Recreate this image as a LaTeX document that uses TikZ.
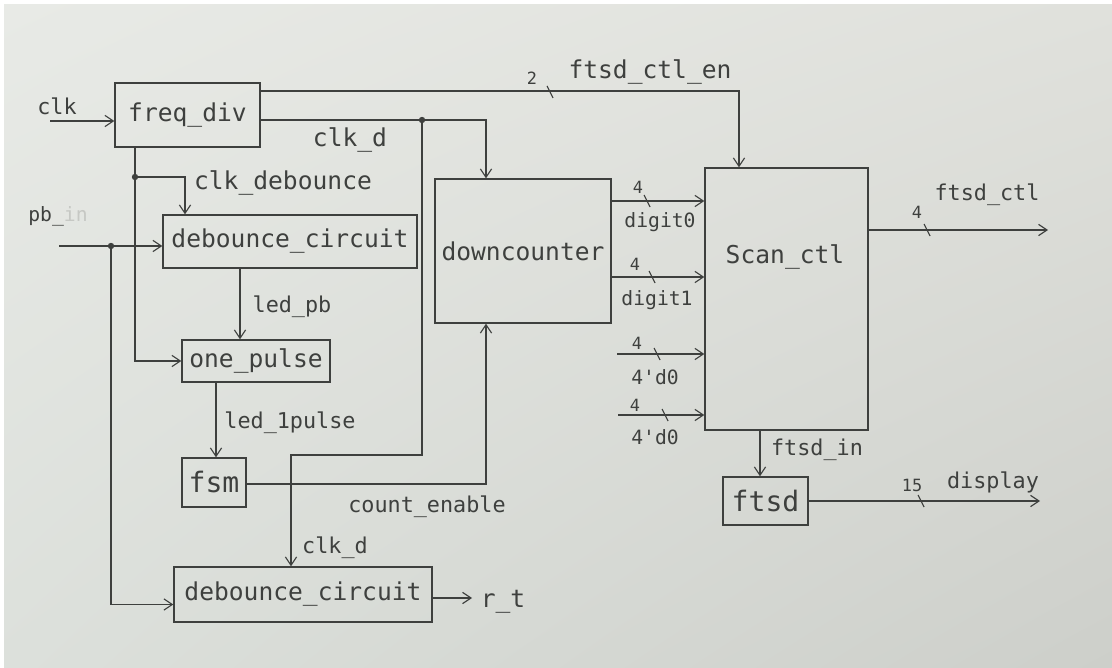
\documentclass[tikz,border=0pt]{standalone}
\usepackage{fontspec}
\newfontfamily\handfont{DejaVu Sans Mono}
\usetikzlibrary{arrows.meta, shadings}
\definecolor{pencil}{RGB}{62,64,62}
\definecolor{paperA}{RGB}{232,234,230}
\definecolor{paperB}{RGB}{224,225,220}
\definecolor{paperC}{RGB}{220,224,219}
\definecolor{paperD}{RGB}{205,207,202}
\tikzset{
    block/.style={draw=pencil, line width=0.9pt, inner sep=0pt, text=pencil,
        font=\handfont\fontsize{17.5}{20}\selectfont},
    dot/.style={circle, fill=pencil, inner sep=1.6pt, outer sep=0pt},
    wirelabel/.style={text=pencil, inner sep=1pt, font=\handfont\fontsize{15.5}{18}\selectfont},
    biglabel/.style={wirelabel, font=\handfont\fontsize{17.5}{20}\selectfont},
    smalllabel/.style={wirelabel, font=\handfont\fontsize{14}{16}\selectfont},
    buswidth/.style={text=pencil, inner sep=0pt, font=\handfont\fontsize{12}{14}\selectfont},
    wire/.style={draw=pencil, line width=0.8pt, -{Straight Barb[length=6pt, width=8pt]}},
    bus/.pic={\draw[pencil, line width=0.8pt] (-3,-6) -- (3,6);}
}

\begin{document}
\begin{tikzpicture}[x=0.025cm, y=-0.025cm]
    % ---------- paper ----------
    \useasboundingbox (0,0) rectangle (1112,668);
    \fill[white] (0,0) rectangle (1112,668);
    \shade[upper left=paperA, upper right=paperB, lower left=paperC, lower right=paperD]
        (4,5) rectangle (1112,668);

    % ---------- blocks ----------
    \node[block, minimum width=3.625cm, minimum height=1.6cm] (freqdiv) at (187.5,115) {freq\_div};
    \node[block, minimum width=6.35cm, minimum height=1.325cm] (deb1) at (290,241.5) {debounce\_circuit};
    \node[block, minimum width=3.7cm, minimum height=1.05cm] (onepulse) at (256,361) {one\_pulse};
    \node[block, minimum width=1.6cm, minimum height=1.225cm,
        font=\handfont\fontsize{20}{22}\selectfont] (fsm) at (214,482.5) {fsm};
    \node[block, minimum width=6.45cm, minimum height=1.375cm] (deb2) at (303,594.5) {debounce\_circuit};
    \node[block, minimum width=4.4cm, minimum height=3.6cm] (dc) at (523,251) {downcounter};
    \node[block, minimum width=4.075cm, minimum height=6.55cm] (scan) at (786.5,299) {};
    \node[block, draw=none] (scanlbl) at (785,257) {Scan\_ctl};
    \node[block, minimum width=2.125cm, minimum height=1.2cm,
        font=\handfont\fontsize{20}{22}\selectfont] (ftsd) at (765.5,501) {ftsd};

    % ---------- clk and freq_div outputs ----------
    \coordinate (clkin) at (50,121);
    \draw[wire] (clkin) -- (clkin -| freqdiv.west);
    \node[wirelabel] (clklbl) at (57,106) {clk};

    \coordinate (enbend) at (739,91);
    \draw[wire] (freqdiv.east |- enbend) -- (enbend) -- (enbend |- scan.north);
    \pic at (550,92) {bus};
    \node[buswidth] (enwidth) at (532,78) {2};
    \node[biglabel] (enlbl) at (650,72) {ftsd\_ctl\_en};

    \node[dot] (clkd) at (422,120) {};
    \coordinate (dcbend) at (486,120);
    \draw[wire] (freqdiv.east |- clkd) -- (dcbend) -- (dcbend |- dc.north);
    \node[biglabel] (clkdlbl) at (350,140) {clk\_d};
    \coordinate (clkdbend) at (291,455);
    \draw[wire] (clkd) |- (clkdbend) -- (clkdbend |- deb2.north);
    \node[wirelabel] (clkdlbl2) at (335,548) {clk\_d};

    \node[dot] (fdd) at (135,177) {};
    \coordinate (cdbend) at (185,177);
    \draw[pencil, line width=0.8pt] (freqdiv.south -| fdd) -- (fdd);
    \draw[wire] (fdd) |- (onepulse.west);
    \draw[wire] (fdd) -- (cdbend) -- (cdbend |- deb1.north);
    \node[biglabel] (cdlbl) at (283,183) {clk\_debounce};

    % ---------- pb_in ----------
    \coordinate (pbin) at (59,246);
    \node[dot] (pbd) at (111,246) {};
    \draw[wire] (pbin) -- (pbin -| deb1.west);
    \draw[wire] (pbd) |- ([yshift=-0.25cm]deb2.west);
    \node[smalllabel] (pblbl) at (58,216) {pb\_\textcolor{pencil!20!paperA}{in}};

    % ---------- left chain ----------
    \coordinate (ledpb) at (240,0);
    \draw[wire] (deb1.south -| ledpb) -- (onepulse.north -| ledpb);
    \node[wirelabel] (ledpblbl) at (292,307) {led\_pb};

    \coordinate (led1) at (216,0);
    \draw[wire] (onepulse.south -| led1) -- (fsm.north -| led1);
    \node[wirelabel] (led1lbl) at (290,423) {led\_1pulse};

    \coordinate (cebend) at (486,484);
    \draw[wire] (fsm.east |- cebend) -- (cebend) -- (cebend |- dc.south);
    \node[wirelabel] (celbl) at (427,507) {count\_enable};

    \coordinate (rt) at (472,598);
    \draw[wire] (deb2.east |- rt) -- (rt);
    \node[biglabel] (rtlbl) at (503,602) {r\_t};

    % ---------- downcounter to scan_ctl ----------
    \coordinate (dg0) at (611,201);
    \draw[wire] (dc.east |- dg0) -- (dg0 -| scan.west);
    \pic at (647,201) {bus};
    \node[buswidth] at (638,187) {4};
    \node[smalllabel] (dg0lbl) at (660,222) {digit0};

    \coordinate (dg1) at (611,277);
    \draw[wire] (dc.east |- dg1) -- (dg1 -| scan.west);
    \pic at (652,277) {bus};
    \node[buswidth] at (635,264) {4};
    \node[smalllabel] (dg1lbl) at (657,300) {digit1};

    \coordinate (zero0) at (617,354);
    \draw[wire] (zero0) -- (zero0 -| scan.west);
    \pic at (657,354) {bus};
    \node[buswidth] at (637,343) {4};
    \node[smalllabel] (zero0lbl) at (655,377) {4\textquotesingle d0};

    \coordinate (zero1) at (618,415);
    \draw[wire] (zero1) -- (zero1 -| scan.west);
    \pic at (665,415) {bus};
    \node[buswidth] at (635,405) {4};
    \node[smalllabel] (zero1lbl) at (655,437) {4\textquotesingle d0};

    % ---------- scan_ctl and ftsd ----------
    \coordinate (ctlout) at (1048,230);
    \draw[wire] (scan.east |- ctlout) -- (ctlout);
    \pic at (927,230) {bus};
    \node[buswidth] at (917,212) {4};
    \node[wirelabel] (ctllbl) at (987,195) {ftsd\_ctl};

    \coordinate (fin) at (760,0);
    \draw[wire] (scan.south -| fin) -- (ftsd.north -| fin);
    \node[wirelabel] (finlbl) at (817,450) {ftsd\_in};

    \coordinate (disp) at (1040,501);
    \draw[wire] (ftsd.east |- disp) -- (disp);
    \pic at (921,501) {bus};
    \node[buswidth] at (912,485) {15};
    \node[wirelabel] (displbl) at (993,482) {display};
\end{tikzpicture}
\end{document}
